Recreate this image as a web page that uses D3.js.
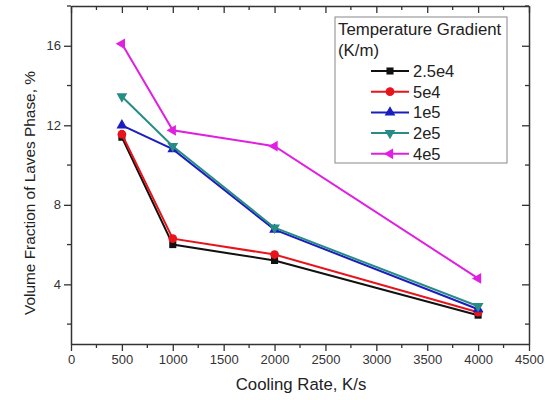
<!DOCTYPE html>
<meta charset="utf-8">
<head>
 <title>Laves phase</title>
</head>
<style>
body { margin: 0; background: #fff; }
text { font-family: Arial, "Liberation Sans", sans-serif; }
</style>
<body>
 <div id="content">
   <svg width="545" height="400"></svg>
 </div>

 <script src="https://d3js.org/d3.v7.min.js"></script>
 <script>
var width = 545, height = 400

// data
var coolingRates = [500, 1000, 2000, 4000]
var seriesNames = ["2.5e4", "5e4", "1e5", "2e5", "4e5"]
var vf25e4 = [11.4, 6.0, 5.2, 2.45]
var vf5e4 = [11.55, 6.3, 5.5, 2.6]
var vf1e5 = [12.0, 10.8, 6.75, 2.75]
var vf2e5 = [13.45, 10.95, 6.85, 2.9]
var vf4e5 = [16.1, 11.75, 10.95, 4.3]
var xTicks = [0, 500, 1000, 1500, 2000, 2500, 3000, 3500, 4000, 4500]
var yTicks = [4, 8, 12, 16]

var colors = ["#111111", "#e8141c", "#1c1cc0", "#268c84", "#e020e0"]
var symbols = [d3.symbolSquare, d3.symbolCircle, d3.symbolTriangle, d3.symbolTriangle, d3.symbolTriangle]
var rotations = [0, 0, 0, 180, -90]
var allValues = [vf25e4, vf5e4, vf1e5, vf2e5, vf4e5]

var margin = {left: 71, right: 16, top: 6, bottom: 56}

var x = d3.scaleLinear().domain([0, 4500]).range([margin.left, width - margin.right])
var y = d3.scaleLinear().domain([1, 18]).range([height - margin.bottom, margin.top])

var svg = d3.select('svg')

// frame
var axisColor = "#333"
var bottomAxis = d3.axisBottom(x).tickValues(xTicks).tickFormat(d3.format('d'))
  .tickSize(7).tickPadding(4).tickSizeOuter(0)
var gx = svg.append('g').attr('transform', 'translate(0,' + y.range()[0] + ')').call(bottomAxis)
gx.selectAll('.tick line').attr('stroke', axisColor).attr('stroke-width', 1.3)
gx.select('.domain').attr('stroke', axisColor).attr('stroke-width', 1.5)
gx.selectAll('text').attr('font-size', 13).attr('fill', '#333')

var leftAxis = d3.axisLeft(y).tickValues(yTicks).tickSize(7).tickPadding(3).tickSizeOuter(0)
var gy = svg.append('g').attr('transform', 'translate(' + x.range()[0] + ',0)').call(leftAxis)
gy.selectAll('.tick line').attr('stroke', axisColor).attr('stroke-width', 1.3)
gy.select('.domain').attr('stroke', axisColor).attr('stroke-width', 1.5)
gy.selectAll('text').attr('font-size', 13).attr('fill', '#333')

// minor ticks
var xMinor = d3.range(250, 4500, 500)
var yMinor = [2, 6, 10, 14, 18]
svg.append('g').selectAll('line').data(xMinor).enter().append('line')
  .attr('x1', function(d) { return x(d) }).attr('x2', function(d) { return x(d) })
  .attr('y1', y.range()[0]).attr('y2', y.range()[0] + 4)
  .attr('stroke', axisColor).attr('stroke-width', 1.3)
svg.append('g').selectAll('line').data(yMinor).enter().append('line')
  .attr('x1', x.range()[0] - 4).attr('x2', x.range()[0])
  .attr('y1', function(d) { return y(d) }).attr('y2', function(d) { return y(d) })
  .attr('stroke', axisColor).attr('stroke-width', 1.3)

// top and right mirror axes, ticks inward
var topAxis = d3.axisBottom(x).tickValues(xTicks).tickSize(7).tickFormat('').tickSizeOuter(0)
var gt = svg.append('g').attr('transform', 'translate(0,' + y.range()[1] + ')').call(topAxis)
gt.selectAll('.tick line').attr('stroke', axisColor).attr('stroke-width', 1.3)
gt.select('.domain').attr('stroke', axisColor).attr('stroke-width', 1.5)
svg.append('g').selectAll('line').data(xMinor).enter().append('line')
  .attr('x1', function(d) { return x(d) }).attr('x2', function(d) { return x(d) })
  .attr('y1', y.range()[1]).attr('y2', y.range()[1] + 4)
  .attr('stroke', axisColor).attr('stroke-width', 1.3)

var rightAxis = d3.axisLeft(y).tickValues(yTicks).tickSize(7).tickFormat('').tickSizeOuter(0)
var gr = svg.append('g').attr('transform', 'translate(' + x.range()[1] + ',0)').call(rightAxis)
gr.selectAll('.tick line').attr('stroke', axisColor).attr('stroke-width', 1.3)
  .attr('x2', -7)
gr.select('.domain').attr('stroke', axisColor).attr('stroke-width', 1.5)
svg.append('g').selectAll('line').data(yMinor).enter().append('line')
  .attr('x1', x.range()[1] - 4).attr('x2', x.range()[1])
  .attr('y1', function(d) { return y(d) }).attr('y2', function(d) { return y(d) })
  .attr('stroke', axisColor).attr('stroke-width', 1.3)

// axis titles
svg.append('text').attr('x', 301).attr('y', 390)
  .attr('text-anchor', 'middle').attr('font-size', 16.8).attr('fill', '#222')
  .text('Cooling Rate, K/s')
svg.append('text').attr('transform', 'translate(35,193) rotate(-90)')
  .attr('text-anchor', 'middle').attr('font-size', 15.4).attr('fill', '#222')
  .text('Volume Fraction of Laves Phase, %')

// series
var line = d3.line()
  .x(function(d, i) { return x(coolingRates[i]) })
  .y(function(d) { return y(d) })

allValues.forEach(function(vals, s) {
  svg.append('path').datum(vals)
    .attr('d', line)
    .attr('fill', 'none')
    .attr('stroke', colors[s])
    .attr('stroke-width', 2)
  svg.append('g').selectAll('path').data(vals).enter().append('path')
    .attr('d', d3.symbol().type(symbols[s]).size(s == 1 ? 60 : 50))
    .attr('transform', function(d, i) {
      return 'translate(' + x(coolingRates[i]) + ',' + y(d) + ') rotate(' + rotations[s] + ')'
    })
    .attr('fill', colors[s])
})

// legend
var legend = svg.append('g')
legend.append('rect').attr('x', 335).attr('y', 17).attr('width', 172).attr('height', 146)
  .attr('fill', '#fff').attr('stroke', '#888').attr('stroke-width', 1)
legend.append('text').attr('x', 338).attr('y', 35).attr('font-size', 16.8).attr('fill', '#222')
  .text('Temperature Gradient')
legend.append('text').attr('x', 338).attr('y', 56).attr('font-size', 16.8).attr('fill', '#222')
  .text('(K/m)')

seriesNames.forEach(function(name, s) {
  var ly = 71 + s * 20.7
  legend.append('line').attr('x1', 371).attr('x2', 409).attr('y1', ly).attr('y2', ly)
    .attr('stroke', colors[s]).attr('stroke-width', 2)
  legend.append('path')
    .attr('d', d3.symbol().type(symbols[s]).size(s == 1 ? 60 : 50))
    .attr('transform', 'translate(390,' + ly + ') rotate(' + rotations[s] + ')')
    .attr('fill', colors[s])
  legend.append('text').attr('x', 413).attr('y', ly + 6).attr('font-size', 16.5).attr('fill', '#222')
    .text(name)
})
 </script>
</body>
</html>
